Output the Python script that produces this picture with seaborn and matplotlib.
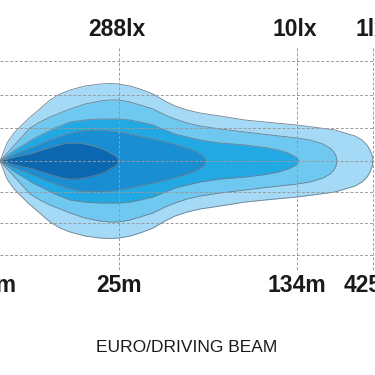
import matplotlib
matplotlib.use("Agg")
import matplotlib.pyplot as plt
import seaborn as sns
import pandas as pd
import numpy as np

# Beam chart positions (x: diagram position; distances shown as labels)
mark_pos = [0, 119, 297, 373]
dist_labels = ["0m", "25m", "134m", "425m"]
lux_pos = [119, 297, 373]
lux_labels = ["288lx", "10lx", "1lx"]
title = "EURO/DRIVING BEAM"

# Contour half-widths (lateral spread)
c1_x = [0, 7, 14, 20, 28, 35, 50, 60, 70, 85, 100, 110, 119, 130, 140, 153, 165, 175,
        187, 200, 220, 245, 270, 297, 320, 335, 345, 355, 362, 367, 370, 372, 373]
c1_w = [0, 18, 28, 34, 42, 48, 61, 67, 71, 75, 77, 77.5, 77, 75, 72, 67, 60, 55,
        51, 48, 45, 41, 38.5, 36, 33, 31, 28, 25, 21, 16, 11, 6, 0]
c2_x = [0, 10, 20, 30, 40, 50, 60, 70, 85, 100, 110, 119, 130, 140, 153, 165, 175,
        187, 200, 220, 245, 270, 297, 310, 323, 330, 334, 336, 337]
c2_w = [0, 11, 22, 33, 39, 44, 48, 52, 57, 60, 61, 61, 59, 56, 52, 46, 42,
        38, 35, 32, 29, 26, 23, 21, 17, 13, 9, 5, 0]
c3_x = [0, 15, 25, 33, 45, 55, 70, 85, 100, 119, 130, 140, 153, 165, 175, 187, 200,
        220, 245, 265, 278, 288, 294, 297, 299]
c3_w = [0, 11, 17, 22, 28, 33, 39, 41, 42, 42, 41, 39, 36, 31, 27, 24, 21,
        18, 16, 13.5, 11, 8, 5, 3, 0]
c4_x = [0, 15, 33, 50, 70, 85, 100, 119, 135, 153, 170, 187, 195, 200, 204, 206]
c4_w = [0, 7, 14, 21, 28, 30.5, 31, 29, 26, 22, 18, 13, 10, 7, 4, 0]
c5_x = [0, 15, 33, 45, 55, 63, 70, 78, 85, 93, 100, 106, 110, 114, 117, 119]
c5_w = [0, 4, 8, 12, 15, 17, 18, 18, 17, 15, 13, 10.5, 8, 6, 3.5, 0]

colors = ["#a4daf6", "#6fc8f0", "#22a9e4", "#1a8ed3", "#0c67b1"]
h_grid = [100, 66, 33, 0, -31, -62, -94]

contours = [(c1_x, c1_w), (c2_x, c2_w), (c3_x, c3_w), (c4_x, c4_w), (c5_x, c5_w)]

sns.set_theme(style="white")
plt.rcParams["font.family"] = ["Liberation Sans", "DejaVu Sans"]

fig = plt.figure(figsize=(3.75, 3.75), dpi=100)
ax = fig.add_axes([0, 0, 1, 1])
ax.set_xlim(0, 375)
ax.set_ylim(-214, 161)
ax.axis("off")

grid_kw = dict(color="#9a9a9a", lw=0.7, ls=(0, (3, 2)), zorder=3)
for y in h_grid:
    ax.plot([0, 375], [y, y], **grid_kw)
for x in lux_pos:
    ax.plot([x, x], [113, -109], **grid_kw)

for i, ((xs, ws), c) in enumerate(zip(contours, colors)):
    xs = np.array(xs, float)
    ws = np.array(ws, float)
    ax.fill_between(xs, -ws, ws, color=c, lw=0, zorder=1 + i * 0.01)
    df = pd.DataFrame({"x": np.concatenate([xs, xs[::-1]]),
                       "y": np.concatenate([ws, -ws[::-1]])})
    sns.lineplot(data=df, x="x", y="y", sort=False, estimator=None,
                 color="#6f8090", lw=0.6, ax=ax, zorder=1.005 + i * 0.01)

for x, t in zip(lux_pos, lux_labels):
    ax.text(x - 2, 132, t, ha="center", va="center", fontsize=16.5,
            fontweight="bold", color="#1a1a1a")
for x, t in zip(mark_pos, dist_labels):
    ax.text(x, -124, t, ha="center", va="center", fontsize=16.5,
            fontweight="bold", color="#1a1a1a")
ax.text(187, -187, title, ha="center", va="center", fontsize=12.5,
        color="#1a1a1a")

ax.set_xlabel("")
ax.set_ylabel("")
fig.savefig("out.png", dpi=100)
